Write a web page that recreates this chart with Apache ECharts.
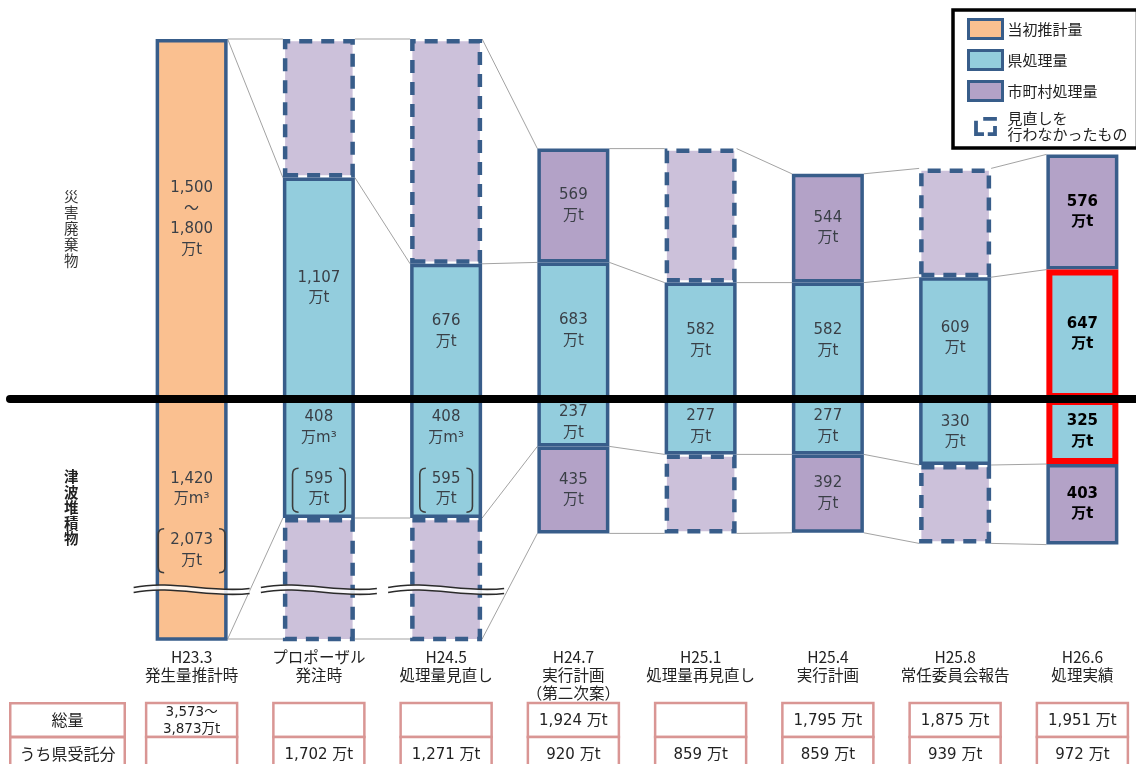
<!DOCTYPE html>
<html lang="ja">
<head>
<meta charset="utf-8">
<title>災害廃棄物・津波堆積物 処理量の推移</title>
<script src="https://cdn.jsdelivr.net/npm/echarts@6/dist/echarts.min.js"></script>
<style>
  html, body { margin: 0; padding: 0; background: #fff; }
  #chart { width: 1136px; height: 764px; }
</style>
</head>
<body>
<div id="chart"></div>
<script>
// ---- 時点（列） ----
const stages = [
  'H23.3\n発生量推計時',
  'プロポーザル\n発注時',
  'H24.5\n処理量見直し',
  'H24.7\n実行計画\n（第二次案）',
  'H25.1\n処理量再見直し',
  'H25.4\n実行計画',
  'H25.8\n常任委員会報告',
  'H26.6\n処理実績'
];

// ---- 当初推計量（万t） ----
const initialDebrisLow  = [1500, null, null, null, null, null, null, null];
const initialDebrisHigh = [1800, null, null, null, null, null, null, null];
const initialSediment   = [2073, null, null, null, null, null, null, null];

// 津波堆積物の体積（万m³）
const sedimentVolume = [1420, 408, 408, null, null, null, null, null];

// ---- 県処理量（万t） ----
const prefDebris   = [null, 1107, 676, 683, 582, 582, 609, 647];
const prefSediment = [null, 595, 595, 237, 277, 277, 330, 325];

// ---- 市町村処理量（万t） ----
const cityDebris   = [null, 693, 1124, 569, 670, 544, 544, 576];
const citySediment = [null, 1478, 1478, 435, 395, 392, 392, 403];
// false = 見直しを行わなかったもの（破線）
const cityReviewed = [null, false, false, true, false, true, false, true];

// ---- 表（万t） ----
const tableRows     = ['総量', 'うち県受託分'];
const totalLow      = [3573, null, null, null, null, null, null, null];
const totalAmount   = [3873, null, null, 1924, null, 1795, 1875, 1951];
const prefEntrusted = [null, 1702, 1271, 920, 859, 859, 939, 972];

// 処理実績（強調する列）
const highlightStage = 7;

// ---- 描画設定 ----
const Y_MIN = -1200, Y_MAX = 1800;
const BAR_W = 72;
const BREAK_AT = -950;
const C = {
  orange: '#FAC090', blue: '#93CDDD', purple: '#B3A2C7', purpleLight: '#CCC1DA',
  edge: '#385D8A', red: '#FF0000', pink: '#D99694', text: '#3a3f46', link: '#a3a3a3'
};
const NUM_FONT = '"DejaVu Sans", "Noto Sans CJK JP", sans-serif';
const JP_FONT = '"Noto Sans CJK JP", sans-serif';

const fmt = v => v.toLocaleString('en-US');
const clampY = v => Math.max(Y_MIN, Math.min(Y_MAX, v));

const measureCtx = document.createElement('canvas').getContext('2d');
function textWidth(s, font) { measureCtx.font = font; return measureCtx.measureText(s).width; }

function lbl(i, text) {
  const strong = i === highlightStage;
  return {
    show: true, position: 'inside', formatter: text,
    fontSize: 15, lineHeight: 20.5, fontFamily: NUM_FONT,
    color: strong ? '#000' : C.text, fontWeight: strong ? 'bold' : 'normal'
  };
}
const solidEdge = { borderColor: C.edge, borderWidth: 3.5, borderType: 'solid' };
const dashedEdge = { color: C.purpleLight, borderColor: C.edge, borderWidth: 4.5, borderType: [13, 9] };
const redFrame = { borderColor: C.red, borderWidth: 6 };

// 列ごとの境界値: [上端, 県処理量の上端, 県処理量の下端, 下端]
function stackEdges(i) {
  if (initialDebrisHigh[i] != null) {
    const top = initialDebrisHigh[i], bottom = -initialSediment[i];
    return [top, top, bottom, bottom];
  }
  const pt = prefDebris[i], pb = -prefSediment[i];
  return [pt + cityDebris[i], pt, pb, pb - citySediment[i]];
}

// ---- 棒（積み上げ） ----
const orangeUp = stages.map((_, i) => initialDebrisHigh[i] == null ? null : {
  value: initialDebrisHigh[i],
  label: lbl(i, `${fmt(initialDebrisLow[i])}\n～\n${fmt(initialDebrisHigh[i])}\n万t`)
});
const orangeDown = stages.map((_, i) => initialSediment[i] == null ? null : {
  value: -initialSediment[i],
  label: lbl(i, `${fmt(sedimentVolume[i])}\n万m³\n\n${fmt(initialSediment[i])}\n万t`)
});
const blueUp = stages.map((_, i) => prefDebris[i] == null ? null : {
  value: prefDebris[i],
  itemStyle: i === highlightStage ? redFrame : {},
  label: lbl(i, `${fmt(prefDebris[i])}\n万t`)
});
const blueDown = stages.map((_, i) => prefSediment[i] == null ? null : {
  value: -prefSediment[i],
  itemStyle: i === highlightStage ? redFrame : {},
  label: lbl(i, sedimentVolume[i] != null
    ? `${fmt(sedimentVolume[i])}\n万m³\n\n${fmt(prefSediment[i])}\n万t`
    : `${fmt(prefSediment[i])}\n万t`)
});
const purpleUp = stages.map((_, i) => cityDebris[i] == null ? null : {
  value: cityDebris[i],
  itemStyle: cityReviewed[i] ? {} : dashedEdge,
  label: cityReviewed[i] ? lbl(i, `${fmt(cityDebris[i])}\n万t`) : { show: false }
});
const purpleDown = stages.map((_, i) => citySediment[i] == null ? null : {
  value: -citySediment[i],
  itemStyle: cityReviewed[i] ? {} : dashedEdge,
  label: cityReviewed[i] ? lbl(i, `${fmt(citySediment[i])}\n万t`) : { show: false }
});

function barSeries(name, color, data, z) {
  return {
    name, type: 'bar', stack: 'amount', barWidth: BAR_W, z,
    xAxisIndex: 0, yAxisIndex: 0, data,
    itemStyle: Object.assign({ color }, solidEdge),
    emphasis: { disabled: true }
  };
}

// ---- 列間をつなぐ補助線 ----
const linkSeries = {
  type: 'custom', xAxisIndex: 0, yAxisIndex: 0, z: 1, silent: true,
  data: stages.slice(0, -1).map((_, i) => [i, 0]),
  encode: { x: 0, y: 1 },
  renderItem(params, api) {
    const i = api.value(0);
    const a = stackEdges(i), b = stackEdges(i + 1);
    const xa = api.coord([i, 0])[0] + BAR_W / 2;
    const xb = api.coord([i + 1, 0])[0] - BAR_W / 2;
    return {
      type: 'group',
      children: a.map((v, k) => ({
        type: 'line',
        shape: { x1: xa, y1: api.coord([i, clampY(v)])[1], x2: xb, y2: api.coord([i + 1, clampY(b[k])])[1] },
        style: { stroke: C.link, lineWidth: 1 }
      }))
    };
  }
};

// ---- 重量（万t）を囲む括弧 ----
const bracketSeries = {
  type: 'custom', xAxisIndex: 0, yAxisIndex: 0, z: 5, silent: true,
  data: stages.map((_, i) => [i, 0]).filter((_, i) => sedimentVolume[i] != null),
  encode: { x: 0, y: 1 },
  renderItem(params, api) {
    const i = api.value(0);
    const tons = initialSediment[i] != null ? initialSediment[i] : prefSediment[i];
    const cx = api.coord([i, 0])[0];
    const y0 = api.coord([i, 0])[1];
    const y1 = api.coord([i, clampY(-tons)])[1];
    const cy = (y0 + y1) / 2 + 1.5 * 20.5 + 1;
    const tw = Math.max(textWidth(fmt(tons), '15px ' + NUM_FONT), textWidth('万t', '15px ' + NUM_FONT));
    const hw = tw / 2 + 12, hh = 22, r = 6;
    const xl = cx - hw, xr = cx + hw, yt = cy - hh, yb = cy + hh;
    const d = `M${xl + r},${yt} Q${xl},${yt} ${xl},${yt + r} L${xl},${yb - r} Q${xl},${yb} ${xl + r},${yb}` +
              ` M${xr - r},${yt} Q${xr},${yt} ${xr},${yt + r} L${xr},${yb - r} Q${xr},${yb} ${xr - r},${yb}`;
    return { type: 'path', shape: { pathData: d }, style: { fill: 'none', stroke: '#3c3c3c', lineWidth: 1.6 } };
  }
};

// ---- 省略（波線） ----
const breakSeries = {
  type: 'custom', xAxisIndex: 0, yAxisIndex: 0, z: 6, silent: true,
  data: stages.map((_, i) => [i, 0]).filter((_, i) => stackEdges(i)[3] < Y_MIN),
  encode: { x: 0, y: 1 },
  renderItem(params, api) {
    const i = api.value(0);
    const cx = api.coord([i, 0])[0];
    const y = api.coord([i, BREAK_AT])[1];
    const x0 = cx - 58, x1 = cx + 58;
    const fwd = d => `M${x0},${y + 1 + d} C${x0 + 38},${y - 7 + d} ${x0 + 78},${y + 7 + d} ${x1},${y + 2 + d}`;
    const back = d => `C${x0 + 78},${y + 7 + d} ${x0 + 38},${y - 7 + d} ${x0},${y + 1 + d}`;
    const band = `${fwd(-2.5)} L${x1},${y + 4.5} ${back(2.5)} Z`;
    return {
      type: 'group',
      children: [
        { type: 'path', shape: { pathData: band }, style: { fill: 'rgba(255,255,255,0.85)', stroke: 'none' } },
        { type: 'path', shape: { pathData: fwd(-2.5) }, style: { fill: 'none', stroke: '#2b2b2b', lineWidth: 1.6 } },
        { type: 'path', shape: { pathData: fwd(2.5) }, style: { fill: 'none', stroke: '#2b2b2b', lineWidth: 1.6 } }
      ]
    };
  }
};

// ---- 下部の表 ----
const tableSeries = {
  type: 'custom', xAxisIndex: 2, yAxisIndex: 2, z: 2, silent: true,
  data: stages.flatMap((_, i) => [[i, 0], [i, 1]]),
  encode: { x: 0, y: 1 },
  renderItem(params, api) {
    const i = api.value(0), r = api.value(1);
    const [cx, cy] = api.coord([i, r]);
    const h = api.size([0, 1])[1], w = 91;
    let text = '', fontSize = 15, lineHeight = 18;
    if (r === 0) {
      if (totalLow[i] != null) { text = `${fmt(totalLow[i])}～\n${fmt(totalAmount[i])}万t`; fontSize = 13.5; lineHeight = 16.5; }
      else if (totalAmount[i] != null) text = `${fmt(totalAmount[i])} 万t`;
    } else if (prefEntrusted[i] != null) {
      text = `${fmt(prefEntrusted[i])} 万t`;
    }
    return {
      type: 'group',
      children: [
        { type: 'rect', shape: { x: cx - w / 2, y: cy - h / 2, width: w, height: h },
          style: { fill: '#fff', stroke: C.pink, lineWidth: 2.5 } },
        { type: 'text', x: cx, y: cy + 1,
          style: { text, align: 'center', verticalAlign: 'middle', fontSize, lineHeight,
                   fontFamily: NUM_FONT, fill: '#222' } }
      ]
    };
  }
};

// 凡例用（見直しを行わなかったもの）
const legendOnlySeries = {
  name: '見直しを行わなかったもの', type: 'custom', xAxisIndex: 0, yAxisIndex: 0,
  data: [], renderItem: () => null, itemStyle: { color: C.edge }
};

const option = {
  animation: false,
  backgroundColor: '#fff',
  textStyle: { fontFamily: JP_FONT },
  grid: [
    { left: 128, right: -10, top: 39, height: 600, outerBoundsMode: 'none', containLabel: false },
    { left: 10, right: 0, top: 39, height: 600, outerBoundsMode: 'none', containLabel: false },
    { left: 128, right: -10, top: 703, height: 68, outerBoundsMode: 'none', containLabel: false }
  ],
  xAxis: [
    { gridIndex: 0, type: 'category', data: stages, position: 'bottom',
      axisLine: { show: false, onZero: false }, axisTick: { show: false }, splitLine: { show: false },
      axisLabel: { interval: 0, margin: 9, fontSize: 15.5, lineHeight: 18, color: '#222', fontFamily: JP_FONT } },
    // 災害廃棄物／津波堆積物の区切り線
    { gridIndex: 1, type: 'value', min: 0, max: 1, z: 10,
      axisLine: { show: true, onZero: true, lineStyle: { color: '#000', width: 8 } },
      axisTick: { show: false }, axisLabel: { show: false }, splitLine: { show: false } },
    { gridIndex: 2, type: 'category', data: stages, show: false }
  ],
  yAxis: [
    { gridIndex: 0, type: 'value', min: Y_MIN, max: Y_MAX, show: false, splitLine: { show: false } },
    { gridIndex: 1, type: 'value', min: Y_MIN, max: Y_MAX, show: false, splitLine: { show: false } },
    { gridIndex: 2, type: 'category', data: tableRows, inverse: true,
      axisLine: { show: false }, axisTick: { show: false }, splitLine: { show: false },
      axisLabel: { interval: 0, hideOverlap: false, margin: 60.5, align: 'center', verticalAlign: 'middle',
                   width: 112, height: 31, lineHeight: 31,
                   borderColor: C.pink, borderWidth: 2.5, backgroundColor: '#fff', padding: 0,
                   fontSize: 16, color: '#222', fontFamily: JP_FONT } }
  ],
  legend: {
    left: 953, top: 10, orient: 'vertical', selectedMode: false,
    padding: [8, 10, 6, 14], itemWidth: 34, itemHeight: 19, itemGap: 9,
    backgroundColor: '#fff', borderColor: '#000', borderWidth: 3.5, borderRadius: 0,
    textStyle: { fontSize: 15, lineHeight: 15.5, color: '#222', fontFamily: JP_FONT },
    formatter: n => n === '見直しを行わなかったもの' ? '見直しを\n行わなかったもの' : n,
    data: [
      { name: '当初推計量', icon: 'rect', itemStyle: { borderColor: C.edge, borderWidth: 3 } },
      { name: '県処理量', icon: 'rect', itemStyle: { borderColor: C.edge, borderWidth: 3 } },
      { name: '市町村処理量', icon: 'rect', itemStyle: { borderColor: C.edge, borderWidth: 3 } },
      { name: '見直しを行わなかったもの',
        icon: 'path://M15,0H33V5H15Z M3,5H8V20H16V25H3Z M28,12H33V25H21V20H28Z',
        itemStyle: { color: C.edge, borderWidth: 0 } }
    ]
  },
  graphic: [
    { type: 'text', left: 64, top: 188, silent: true,
      style: { text: '災\n害\n廃\n棄\n物', fontSize: 14.5, lineHeight: 16, fill: '#333', fontFamily: JP_FONT } },
    { type: 'text', left: 64, top: 469, silent: true,
      style: { text: '津\n波\n堆\n積\n物', fontSize: 14.5, lineHeight: 15.5, fill: '#222', fontWeight: 'bold', fontFamily: JP_FONT } }
  ],
  series: [
    linkSeries,
    barSeries('当初推計量', C.orange, orangeUp, 3),
    barSeries('当初推計量', C.orange, orangeDown, 3),
    barSeries('県処理量', C.blue, blueUp, 3),
    barSeries('県処理量', C.blue, blueDown, 3),
    barSeries('市町村処理量', C.purple, purpleUp, 2),
    barSeries('市町村処理量', C.purple, purpleDown, 2),
    bracketSeries,
    breakSeries,
    tableSeries,
    legendOnlySeries
  ]
};

const chart = echarts.init(document.getElementById('chart'), null, { renderer: 'canvas' });
chart.setOption(option);
</script>
</body>
</html>
